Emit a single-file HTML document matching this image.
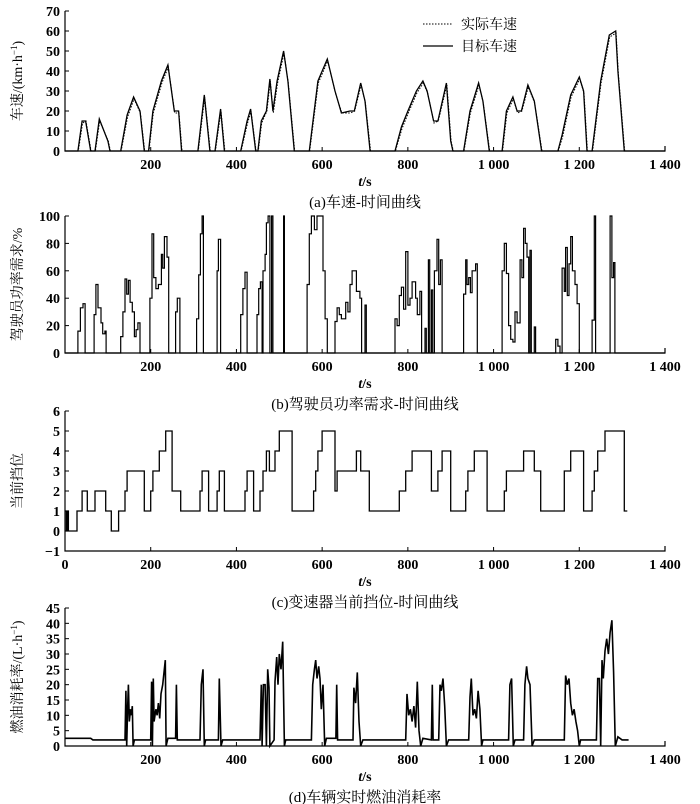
<!DOCTYPE html>
<html><head><meta charset="utf-8"><style>
body{margin:0;background:#fff}
svg{display:block;font-family:"Liberation Serif","Noto Serif CJK SC",serif}
</style></head><body>
<svg id="c" width="700" height="804" viewBox="0 0 700 804" xmlns="http://www.w3.org/2000/svg"></svg>
<script>
const xTicks=[200,400,600,800,1000,1200,1400];
const xTickLabels=["200","400","600","800","1 000","1 200","1 400"];
const speedTarget=[[0,0],[30,0],[40,15],[48,15],[60,0],[70,0],[80,16],[100,5],[105,0],[130,0],[145,18],[160,27],[175,20],[185,0],[195,0],[205,20],[225,35],[240,43],[255,20],[265,20],[272,0],[310,0],[325,28],[338,0],[350,0],[363,21],[372,0],[410,0],[425,15],[433,21],[445,0],[450,0],[458,15],[470,20],[478,36],[485,20],[495,35],[510,50],[520,35],[535,0],[570,0],[590,35],[612,46],[630,30],[645,19],[665,20],[675,20],[690,34],[700,25],[712,0],[770,0],[785,12],[800,20],[820,30],[835,35],[845,30],[860,15],[870,15],[890,34],[900,5],[905,0],[930,0],[945,20],[965,34],[975,25],[990,0],[1020,0],[1030,20],[1045,27],[1055,20],[1065,20],[1080,33],[1095,25],[1112,0],[1150,0],[1160,8],[1180,28],[1200,37],[1210,30],[1218,0],[1230,0],[1250,35],[1270,58],[1285,60],[1290,40],[1305,0],[1400,0]];
const speedActual=[[0,0],[31,0],[41,14],[49,15],[61,0],[71,0],[81,15],[101,5],[106,0],[131,0],[146,17],[161,26],[176,19],[186,0],[196,0],[206,19],[226,34],[241,42],[256,19],[266,19],[273,0],[311,0],[326,27],[339,0],[351,0],[364,20],[373,0],[411,0],[426,14],[434,20],[446,0],[451,0],[459,14],[471,20],[479,35],[486,19],[496,34],[511,49],[521,34],[536,0],[571,0],[591,34],[613,45],[631,29],[646,19],[666,19],[676,20],[691,33],[701,24],[713,0],[771,0],[786,11],[801,19],[821,29],[836,34],[846,29],[861,14],[871,15],[891,33],[901,5],[906,0],[931,0],[946,19],[966,33],[976,24],[991,0],[1021,0],[1031,19],[1046,26],[1056,19],[1066,20],[1081,32],[1096,24],[1113,0],[1151,0],[1161,7],[1181,27],[1201,36],[1211,29],[1219,0],[1231,0],[1251,34],[1271,57],[1286,59],[1291,39],[1306,0],[1400,0]];
const powerDemand=[[0,0],[30,16],[36,33],[42,36],[47,0],[68,28],[72,50],[77,33],[84,22],[88,14],[93,16],[96,0],[130,12],[135,30],[140,54],[144,43],[148,53],[152,37],[157,30],[162,12],[166,17],[170,22],[175,0],[198,40],[203,87],[207,55],[212,47],[218,50],[225,72],[228,62],[232,85],[238,70],[242,0],[258,30],[262,40],[268,0],[307,25],[312,57],[316,87],[320,100],[323,0],[355,60],[358,83],[363,0],[410,28],[415,47],[420,59],[425,0],[448,28],[452,47],[456,52],[460,0],[462,60],[467,72],[470,95],[474,100],[478,0],[482,100],[485,0],[510,100],[512,0],[565,50],[570,87],[575,100],[582,90],[588,100],[598,100],[602,60],[607,25],[612,0],[630,23],[635,33],[640,28],[645,25],[655,37],[660,30],[665,50],[670,60],[680,45],[688,40],[692,0],[700,35],[703,0],[770,25],[775,20],[780,42],[785,48],[790,32],[795,74],[800,35],[805,40],[810,52],[818,40],[822,28],[828,45],[832,0],[840,18],[843,0],[848,68],[851,0],[855,46],[858,0],[862,60],[868,83],[872,50],[876,68],[880,0],[930,43],[935,68],[938,50],[942,55],[946,44],[950,60],[958,65],[962,0],[1020,60],[1025,80],[1030,58],[1035,20],[1040,10],[1045,8],[1050,30],[1055,22],[1062,68],[1066,55],[1070,91],[1074,80],[1078,70],[1082,0],[1085,75],[1088,0],[1095,19],[1098,0],[1145,10],[1150,5],[1155,0],[1160,62],[1165,45],[1168,77],[1172,42],[1176,65],[1180,85],[1184,60],[1190,50],[1195,36],[1200,0],[1230,24],[1235,100],[1238,0],[1272,100],[1276,55],[1280,66],[1283,0],[1400,0]];
const gear=[[0,1],[3,0],[5,1],[8,0],[28,1],[40,2],[52,1],[70,2],[95,1],[108,0],[125,1],[140,2],[145,3],[185,1],[200,2],[205,3],[220,4],[235,5],[250,2],[270,1],[315,2],[320,3],[335,1],[355,2],[360,3],[372,1],[420,2],[425,3],[440,1],[455,2],[462,3],[470,4],[477,3],[490,4],[500,5],[530,1],[580,2],[585,3],[590,4],[600,5],[630,2],[635,3],[680,4],[690,3],[710,1],[780,2],[795,3],[810,4],[855,2],[870,3],[880,4],[900,1],[935,2],[940,3],[955,4],[985,1],[1025,2],[1030,3],[1070,4],[1095,3],[1110,1],[1165,3],[1180,4],[1210,1],[1230,2],[1235,3],[1243,4],[1260,5],[1305,1],[1312,1]];
const fuel=[[0,2.5],[60,2.5],[65,2],[140,2],[142,18],[144,0],[146,12],[148,20],[150,8],[153,12],[155,10],[157,13],[159,0],[162,2],[200,2],[202,21],[204,0],[206,22],[208,8],[212,12],[215,10],[218,14],[221,9],[224,17],[228,20],[231,24],[234,28],[236,0],[240,2.5],[258,2.5],[260,20],[262,2],[315,2],[318,20],[322,25],[325,0],[328,2],[358,2],[360,22],[364,0],[368,2],[455,2],[458,20],[460,0],[463,20],[467,20],[470,0],[473,25],[476,19],[478,0],[488,2],[490,21],[494,29],[497,20],[500,30],[504,25],[508,34],[512,0],[515,2],[575,2],[578,20],[582,25],[585,28],[588,22],[592,26],[595,22],[598,12],[602,20],[606,0],[610,2.5],[632,2.5],[634,20],[636,2],[672,2],[674,19],[678,14],[682,24],[686,8],[690,0],[695,2],[795,2],[798,17],[802,10],[806,12],[810,8],[814,13],[818,6],[822,21],[826,5],[830,0],[835,2.5],[855,2],[857,20],[859,2],[872,2],[875,20],[878,18],[882,22],[886,13],[890,0],[895,2],[942,2],[945,16],[948,22],[952,10],[956,12],[960,9],[964,18],[968,12],[972,0],[975,2],[1035,2],[1038,20],[1042,22],[1046,0],[1050,2],[1070,2],[1073,20],[1077,26],[1080,22],[1085,20],[1090,0],[1095,2],[1165,2],[1168,23],[1172,20],[1176,22],[1180,14],[1184,10],[1188,12],[1192,8],[1196,5],[1200,0],[1203,2],[1240,2],[1243,22],[1247,22],[1250,0],[1253,28],[1256,22],[1260,31],[1264,35],[1268,30],[1272,37],[1276,41],[1280,24],[1284,0],[1290,3],[1300,2],[1315,2]];
const yTicksA=[0,10,20,30,40,50,60,70];
const yTicksB=[0,20,40,60,80,100];
const yTicksC=[-1,0,1,2,3,4,5,6];
const yTicksD=[0,5,10,15,20,25,30,35,40,45];

const NS="http://www.w3.org/2000/svg";
const svg=document.getElementById('c');
function el(tag,attrs,parent,text){const e=document.createElementNS(NS,tag);for(const k in attrs)e.setAttribute(k,attrs[k]);if(text!==undefined)e.textContent=text;(parent||svg).appendChild(e);return e;}
const X0=65,X1=665;
const sx=t=>X0+(t/1400)*(X1-X0);

function panel(key,ymin,ymax,top,bot,yt,yTitle,caption,xZero){
  const g=el('g',{},svg);
  
  
  const sy=v=>bot-(v-ymin)/(ymax-ymin)*(bot-top);
  const ax=el('path',{d:`M${X0},${top}V${sy(ymin)}H${X1}V${sy(ymin)-5}`,stroke:'#000','stroke-width':1.2,fill:'none'},g);
  
  
  yt.forEach(v=>{
    el('line',{x1:X0,x2:X0+4,y1:sy(v),y2:sy(v),stroke:'#000'},g);
    const t=el('text',{x:X0-5,y:sy(v)+5,'text-anchor':'end','font-size':14,'font-weight':'bold'},g,v<0?'−'+(-v):String(v));
    
    
  });
  const xs=xZero?[0].concat(xTicks):xTicks, xl=xZero?["0"].concat(xTickLabels):xTickLabels;
  xs.forEach((v,i)=>{
    el('line',{x1:sx(v),x2:sx(v),y1:bot,y2:bot-4,stroke:'#000'},g);
    const t=el('text',{x:sx(v),y:bot+18,'text-anchor':'middle','font-size':14,'font-weight':'bold'},g,xl[i]);
    
    
  });
  const xt=el('text',{x:sx(700),y:bot+35,'text-anchor':'middle','font-size':14,'font-weight':'bold'},g);
  xt.innerHTML='<tspan font-style="italic">t</tspan>/s';
  
  
  const cy=(top+bot)/2;
  const yt2=el('text',{x:22,y:cy,transform:`rotate(-90 22 ${cy})`,'text-anchor':'middle','font-size':14},g);
  yt2.innerHTML=yTitle;
  
  
  const cp=el('text',{x:sx(700),y:bot+56,'text-anchor':'middle','font-size':15},g,caption);
  
  
  return {g,sy};
}
function linePath(data,sy){return data.map((p,i)=>(i?'L':'M')+sx(p[0]).toFixed(1)+','+sy(p[1]).toFixed(1)).join('');}
function stepPath(data,sy){let d='';data.forEach((p,i)=>{if(i===0)d+='M'+sx(p[0])+','+sy(p[1]);else d+='H'+sx(p[0]).toFixed(1)+'V'+sy(p[1]).toFixed(1);});return d;}

// Panel a
let A=panel('speed',0,70,11,151,yTicksA,'车速/(km·h<tspan dy="-5" font-size="9">−1</tspan><tspan dy="5">)</tspan>','(a)车速-时间曲线',false);
let p=el('path',{d:linePath(speedActual,A.sy),stroke:'#000','stroke-width':1,'stroke-dasharray':'1.5,1.5',fill:'none'},A.g);


p=el('path',{d:linePath(speedTarget,A.sy),stroke:'#000','stroke-width':1.3,fill:'none'},A.g);


let lg=el('g',{},A.g);


el('line',{x1:423,x2:453,y1:24,y2:24,stroke:'#000','stroke-dasharray':'1.5,1.5'},lg);
el('text',{x:461,y:29,'font-size':14},lg,'实际车速');
el('line',{x1:423,x2:453,y1:46,y2:46,stroke:'#000','stroke-width':1.3},lg);
el('text',{x:461,y:51,'font-size':14},lg,'目标车速');

// Panel b
let B=panel('power',0,100,216,353,yTicksB,'驾驶员功率需求/%','(b)驾驶员功率需求-时间曲线',false);
p=el('path',{d:stepPath(powerDemand,B.sy),stroke:'#000','stroke-width':1.2,fill:'none'},B.g);



// Panel c
let C=panel('gear',-1,6,411,551,yTicksC,'当前挡位','(c)变速器当前挡位-时间曲线',true);
p=el('path',{d:stepPath(gear,C.sy),stroke:'#000','stroke-width':1.3,fill:'none'},C.g);



// Panel d
let D=panel('fuel',0,45,608,746,yTicksD,'燃油消耗率/(L·h<tspan dy="-5" font-size="9">−1</tspan><tspan dy="5">)</tspan>','(d)车辆实时燃油消耗率',false);
p=el('path',{d:linePath(fuel,D.sy),stroke:'#000','stroke-width':1.6,fill:'none'},D.g);


</script>
</body></html>
